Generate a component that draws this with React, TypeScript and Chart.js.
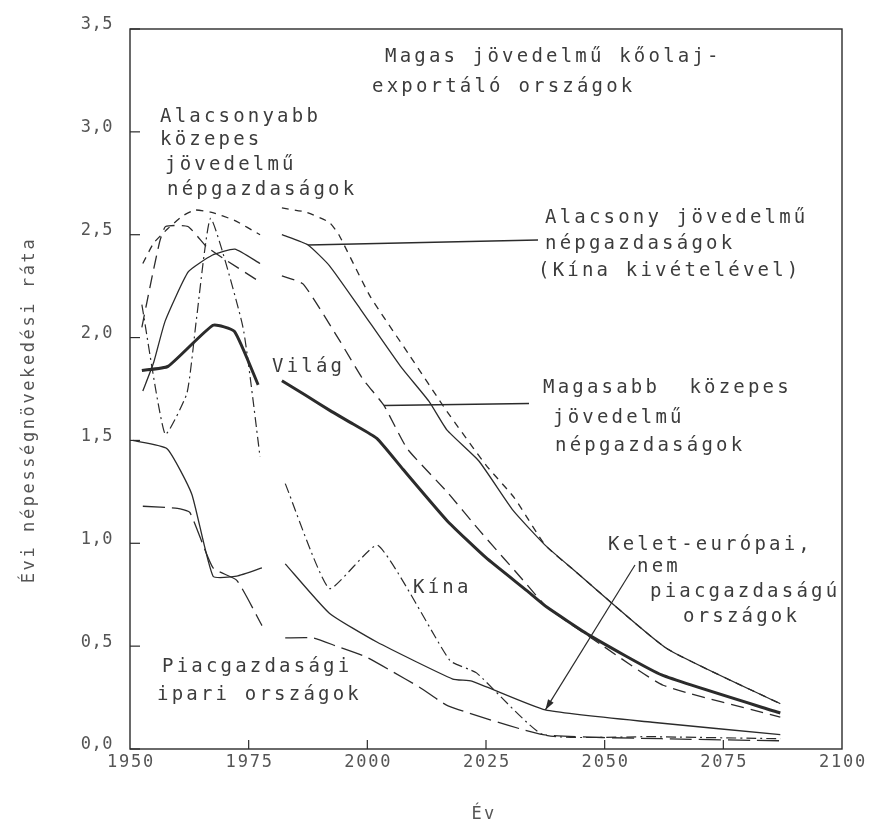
import { useEffect, useRef } from "react";
import { Chart, registerables } from "chart.js";

Chart.register(...registerables);

type Pt = [number, number | null];

// Axis ticks
const yearTicks = [1950, 1975, 2000, 2025, 2050, 2075, 2100];
const rateTicks = [0, 0.5, 1, 1.5, 2, 2.5, 3, 3.5];
const rateTickLabels = ["0,0", "0,5", "1,0", "1,5", "2,0", "2,5", "3,0", "3,5"];

// Annual population growth rate (%), 1950–1980 estimates, then projections to 2100.
// The null entry at 1980 separates the two periods.
const vilag: Pt[] = [
  [1952.5, 1.84], [1958, 1.86], [1967.5, 2.06], [1972, 2.03], [1977, 1.77],
  [1980, null],
  [1982, 1.79], [1987, 1.72], [1992.5, 1.64], [1997, 1.58], [2002, 1.51], [2007.5, 1.36],
  [2016.8, 1.11], [2025, 0.93], [2033.6, 0.77], [2037.8, 0.69], [2047, 0.55], [2062, 0.36], [2087, 0.175],
];

const alacsony: Pt[] = [
  [1952.7, 1.74], [1955, 1.88], [1957.4, 2.08], [1962.3, 2.32], [1967.3, 2.4], [1972.1, 2.43], [1977.4, 2.36],
  [1980, null],
  [1982, 2.5], [1987.5, 2.45], [1992, 2.35], [1998.5, 2.14], [2007, 1.86], [2013, 1.69], [2016.8, 1.55],
  [2023.5, 1.4], [2030.7, 1.16], [2037.5, 0.99], [2043, 0.88], [2063, 0.49], [2087, 0.22],
];

const alacsonyabbKozepes: Pt[] = [
  [1952.7, 2.36], [1955, 2.46], [1958, 2.53], [1961, 2.59], [1963.7, 2.62], [1967, 2.61], [1972, 2.57], [1977.4, 2.5],
  [1980, null],
  [1982, 2.63], [1987, 2.61], [1992, 2.56], [1994, 2.5], [2000.6, 2.2], [2009, 1.91], [2016.8, 1.64],
  [2025, 1.38], [2031, 1.22], [2037.5, 0.99], [2043, 0.88], [2063, 0.49], [2087, 0.22],
];

const magasabbKozepes: Pt[] = [
  [1952.5, 2.05], [1954.6, 2.29], [1956.3, 2.47], [1957.5, 2.54], [1962.2, 2.54], [1966.2, 2.44], [1970, 2.38], [1977.4, 2.27],
  [1980, null],
  [1982, 2.3], [1986.5, 2.26], [1994.3, 1.98], [1999, 1.8], [2003.5, 1.67], [2008.4, 1.46], [2016.8, 1.25],
  [2023.7, 1.06], [2033.6, 0.8], [2037.8, 0.69], [2049.7, 0.5], [2062.3, 0.31], [2087, 0.155],
];

const kina: Pt[] = [
  [1952.5, 2.16], [1957.4, 1.53], [1962, 1.73], [1964, 2.09], [1967, 2.58], [1973.8, 2.05], [1977.4, 1.42],
  [1980, null],
  [1982.7, 1.29], [1992, 0.78], [2002.2, 0.99], [2017.4, 0.43], [2023, 0.37], [2037, 0.07], [2060, 0.06], [2087, 0.05],
];

const keletEuropai: Pt[] = [
  [1950.6, 1.5], [1957.8, 1.46], [1963, 1.24], [1967.5, 0.84], [1972.5, 0.84], [1977.8, 0.88],
  [1980, null],
  [1982.7, 0.9], [1992, 0.66], [2002, 0.52], [2018, 0.34], [2022, 0.33], [2037.5, 0.19], [2060, 0.13], [2087, 0.07],
];

const piacgazdasagiIpari: Pt[] = [
  [1952.7, 1.18], [1960, 1.17], [1962.6, 1.15], [1967.5, 0.88], [1972.5, 0.82], [1977.8, 0.6],
  [1980, null],
  [1982.7, 0.54], [1988.6, 0.54], [1993.5, 0.5], [1999.5, 0.45], [2005, 0.38], [2011, 0.3], [2017, 0.21],
  [2037, 0.07], [2062, 0.05], [2087, 0.04],
];

const INK = "#2b2b2b";
const TEXT = "#3c3c3c";
const MONO = '"DejaVu Sans Mono", "Liberation Mono", monospace';

function series(label: string, pts: Pt[], width: number, dash: number[]) {
  return {
    label,
    data: pts.map(([x, y]) => ({ x, y })),
    borderColor: INK,
    borderWidth: width,
    borderDash: dash,
    pointRadius: 0,
    tension: 0.15,
    spanGaps: false,
    fill: false,
  };
}

function text(
  ctx: CanvasRenderingContext2D,
  s: string,
  px: number,
  py: number,
  size = 19,
  spacing = 3.2,
  align: CanvasTextAlign = "left",
  color = TEXT
) {
  ctx.font = `${size}px ${MONO}`;
  (ctx as any).letterSpacing = `${spacing}px`;
  ctx.fillStyle = color;
  ctx.textAlign = align;
  ctx.textBaseline = "middle";
  ctx.fillText(s, px, py);
}

const decorations = {
  id: "decorations",
  afterDraw(chart: any) {
    const { ctx, chartArea, scales } = chart;
    const { left, right, top, bottom } = chartArea;
    const xs = scales.x;
    const ys = scales.y;
    ctx.save();

    // frame
    ctx.strokeStyle = INK;
    ctx.lineWidth = 1.4;
    ctx.strokeRect(left, top, right - left, bottom - top);

    // inner ticks and tick labels
    ctx.lineWidth = 1.2;
    rateTicks.forEach((v, i) => {
      const py = ys.getPixelForValue(v);
      ctx.beginPath();
      ctx.moveTo(left, py);
      ctx.lineTo(left + 10, py);
      ctx.stroke();
      text(ctx, rateTickLabels[i], left - 17, py - 4, 17, 0.5, "right", "#555");
    });
    yearTicks.forEach((yr) => {
      const px = xs.getPixelForValue(yr);
      if (yr > 1950 && yr < 2100) {
        ctx.beginPath();
        ctx.moveTo(px, bottom);
        ctx.lineTo(px, bottom - 9);
        ctx.stroke();
      }
      text(ctx, String(yr), px + 1, bottom + 14, 17, 1.8, "center", "#555");
    });

    // axis titles
    text(ctx, "Év", 484, 815, 17, 2.3, "center", "#555");
    ctx.save();
    ctx.translate(30, 410);
    ctx.rotate(-Math.PI / 2);
    text(ctx, "Évi népességnövekedési ráta", 0, 0, 17, 2.6, "center", "#555");
    ctx.restore();

    // leader lines
    ctx.strokeStyle = INK;
    ctx.lineWidth = 1.5;
    const p1x = xs.getPixelForValue(1987.5);
    const p1y = ys.getPixelForValue(2.45);
    ctx.beginPath();
    ctx.moveTo(p1x, p1y);
    ctx.lineTo(538, p1y - 5);
    ctx.stroke();

    const p2x = xs.getPixelForValue(2003.5);
    const p2y = ys.getPixelForValue(1.67);
    ctx.beginPath();
    ctx.moveTo(p2x, p2y);
    ctx.lineTo(529, p2y - 2);
    ctx.stroke();

    // arrow to the East European curve
    ctx.lineWidth = 1.2;
    const ax = xs.getPixelForValue(2037.5);
    const ay = ys.getPixelForValue(0.19);
    const sx = 635;
    const sy = 565;
    ctx.beginPath();
    ctx.moveTo(sx, sy);
    ctx.lineTo(ax, ay);
    ctx.stroke();
    const ang = Math.atan2(ay - sy, ax - sx);
    const hl = 11;
    ctx.beginPath();
    ctx.moveTo(ax, ay);
    ctx.lineTo(ax - hl * Math.cos(ang - 0.3), ay - hl * Math.sin(ang - 0.3));
    ctx.lineTo(ax - hl * Math.cos(ang + 0.3), ay - hl * Math.sin(ang + 0.3));
    ctx.closePath();
    ctx.fillStyle = INK;
    ctx.fill();

    // series labels
    text(ctx, "Magas jövedelmű kőolaj-", 385, 57);
    text(ctx, "exportáló országok", 372, 87);

    text(ctx, "Alacsonyabb", 160, 117);
    text(ctx, "közepes", 160, 140);
    text(ctx, "jövedelmű", 165, 165);
    text(ctx, "népgazdaságok", 167, 190);

    text(ctx, "Alacsony jövedelmű", 545, 218);
    text(ctx, "népgazdaságok", 545, 244);
    text(ctx, "(Kína kivételével)", 538, 271);

    text(ctx, "Világ", 272, 367);

    text(ctx, "Magasabb  közepes", 543, 388);
    text(ctx, "jövedelmű", 553, 418);
    text(ctx, "népgazdaságok", 555, 446);

    text(ctx, "Kelet-európai,", 608, 545);
    text(ctx, "nem", 637, 567);
    text(ctx, "piacgazdaságú", 650, 592);
    text(ctx, "országok", 683, 617);

    text(ctx, "Kína", 413, 588);

    text(ctx, "Piacgazdasági", 162, 667);
    text(ctx, "ipari országok", 157, 695);

    ctx.restore();
  },
};

export default function App() {
  const ref = useRef<HTMLCanvasElement | null>(null);

  useEffect(() => {
    if (!ref.current) return;
    const chart = new Chart(ref.current, {
      type: "line",
      data: {
        datasets: [
          series("Világ", vilag, 3, []),
          series("Alacsony jövedelmű népgazdaságok (Kína kivételével)", alacsony, 1.3, []),
          series("Alacsonyabb közepes jövedelmű népgazdaságok", alacsonyabbKozepes, 1.3, [7, 6]),
          series("Magasabb közepes jövedelmű népgazdaságok", magasabbKozepes, 1.3, [13, 7]),
          series("Kína", kina, 1.2, [10, 4, 2, 4]),
          series("Kelet-európai, nem piacgazdaságú országok", keletEuropai, 1.3, []),
          series("Piacgazdasági ipari országok", piacgazdasagiIpari, 1.3, [22, 7]),
        ] as any,
      },
      options: {
        responsive: false,
        animation: false,
        devicePixelRatio: 1,
        layout: { padding: { left: 130, top: 29, right: 27, bottom: 79 } },
        scales: {
          x: { type: "linear", min: 1950, max: 2100, display: false },
          y: { type: "linear", min: 0, max: 3.5, display: false },
        },
        plugins: { legend: { display: false }, tooltip: { enabled: false } },
      },
      plugins: [decorations],
    });
    return () => chart.destroy();
  }, []);

  return (
    <canvas
      ref={ref}
      width={869}
      height={828}
      style={{ position: "absolute", left: 0, top: 0, width: 869, height: 828, background: "#fff" }}
    />
  );
}
